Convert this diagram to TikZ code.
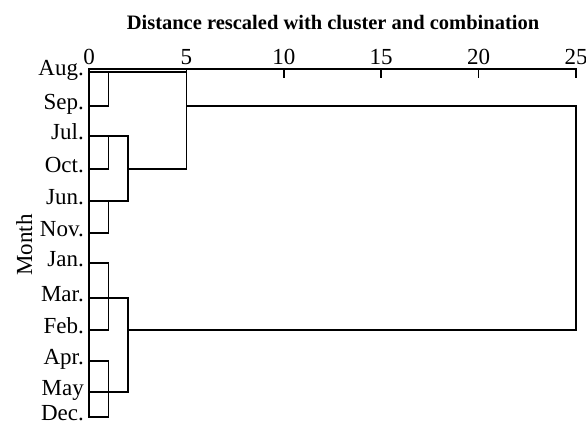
\documentclass[tikz,border=0pt]{standalone}
\usepackage{fontspec}
\setmainfont{Liberation Serif}
\begin{document}
\begin{tikzpicture}[x=1pt,y=-1pt,
  ln/.style={line width=1.7pt,line cap=rect},
  lab/.style={anchor=base east,inner sep=0pt,font=\fontsize{23}{23}\selectfont},
  tlab/.style={anchor=base,inner sep=0pt,font=\fontsize{23}{23}\selectfont}]
\useasboundingbox (0,0) rectangle (586,428);
% axis positions
\def\u{19.48}
\coordinate (a0) at (89,69);
\coordinate (a25) at (576,69);
\coordinate (x1) at (108.5,0);
\coordinate (x2) at (128,0);
\coordinate (x5) at (186.4,0);
\coordinate (x25) at (576,0);
% title
\node[anchor=base,inner sep=0pt,font=\fontsize{20.5}{20.5}\selectfont\bfseries] (title) at (333,30) {Distance rescaled with cluster and combination};
% tick labels
\foreach \v in {0,5,10,15,20,25}{
  \node[tlab] (t\v) at ({89+\u*\v},64) {\v};
}
\draw[ln] (a0) -- (a25);
\foreach \v in {5,10,15,20,25}{
  \draw[ln] ({89+\u*\v},69) coordinate (tk\v) -- ++(0,8);
}
% leaves
\foreach \n/\y/\t in {aug/72/Aug.,sep/106/Sep.,jul/136/Jul.,oct/169/Oct.,jun/201/Jun.,nov/233/Nov.,jan/263/Jan.,mar/298/Mar.,feb/330/Feb.,apr/361/Apr.,may/392/May,dec/417/Dec.}{
  \coordinate (\n) at (89,\y);
  \node[lab] (l\n) at (84,\y+3) {\t};
}
\node[rotate=90,anchor=base,inner sep=0pt,font=\fontsize{23}{23}\selectfont] (month) at (32,245) {Month};
% left spine
\draw[ln] (a0) -- (dec);
% Aug/Sep
\draw[ln] (aug) -- (aug -| x5);
\draw[ln] (sep) -- (sep -| x1) -- (aug -| x1);
% Jul/Oct, Jun/Nov
\draw[ln] (jul) -- (jul -| x2);
\draw[ln] (oct) -- (oct -| x1) -- (jul -| x1);
\draw[ln] (jun) -- (jun -| x2);
\draw[ln] (nov) -- (nov -| x1) -- (jun -| x1);
\draw[ln] (jul -| x2) -- (jun -| x2);
\draw[ln] (oct -| x2) -- (oct -| x5);
\draw[ln] (aug -| x5) -- (oct -| x5);
% top cluster to 25
\draw[ln] (sep -| x5) -- (sep -| x25) -- (feb -| x25) -- (feb -| x2);
% lower cluster
\draw[ln] (jan) -- (jan -| x1) -- (feb -| x1) -- (feb);
\draw[ln] (mar) -- (mar -| x2);
\draw[ln] (apr) -- (apr -| x1) -- (dec -| x1) -- (dec);
\draw[ln] (may) -- (may -| x2);
\draw[ln] (mar -| x2) -- (may -| x2);
\end{tikzpicture}
\end{document}
